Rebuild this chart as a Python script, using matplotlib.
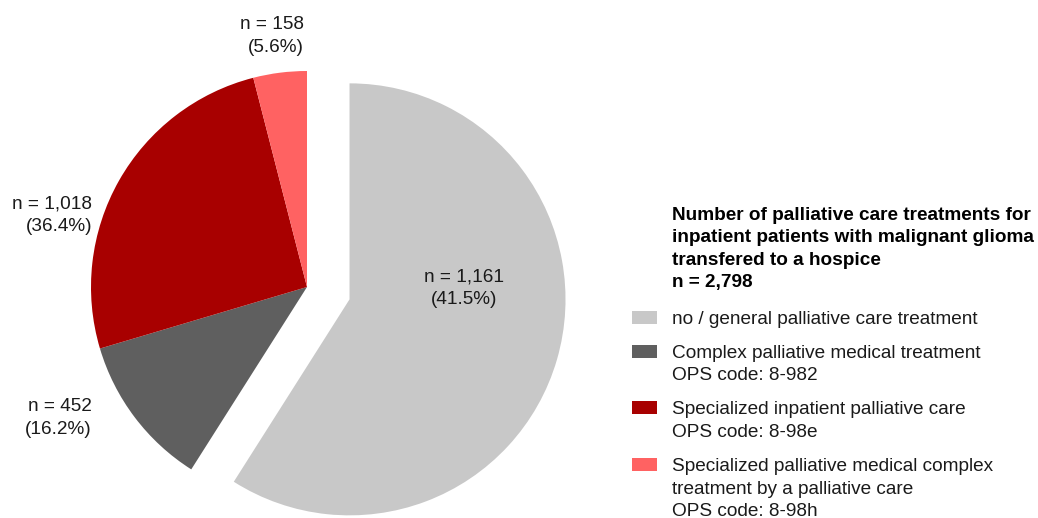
import matplotlib
matplotlib.use("Agg")
import matplotlib.pyplot as plt
from matplotlib.patches import Rectangle

plt.rcParams['font.family'] = ['Liberation Sans', 'DejaVu Sans']

# categories, in drawing order (clockwise from 12 o'clock)
categories = ['no / general palliative care treatment',
              'Complex palliative medical treatment\nOPS code: 8-982',
              'Specialized inpatient palliative care\nOPS code: 8-98e',
              'Specialized palliative medical complex\ntreatment by a palliative care\nOPS code: 8-98h']
counts = [1161, 452, 1018, 158]
percents = [41.5, 16.2, 36.4, 5.6]
# wedge sizes as drawn in the figure (they do not follow the printed percents)
drawn_share = [59.0, 11.4, 25.6, 4.0]
colors = ['#c8c8c8', '#5f5f5f', '#a80000', '#ff6262']
title_lines = ['Number of palliative care treatments for',
               'inpatient patients with malignant glioma',
               'transfered to a hospice',
               'n = 2,798']

W, H = 1038, 518
fig = plt.figure(figsize=(W / 100, H / 100), dpi=100)
ax = fig.add_axes([0, 0, 1, 1])

fs = 13.7
txt_col = '#1a1a1a'

cx, cy, r = 307, H - 287, 216
# explode is in data units here, so scale by the radius
wedges, _ = ax.pie(drawn_share, colors=colors, startangle=90, counterclock=False,
                   explode=[0.205 * r, 0, 0, 0], center=(cx, cy), radius=r,
                   wedgeprops=dict(linewidth=0))
ax.set_xlim(0, W)
ax.set_ylim(0, H)
ax.set_aspect('equal')
ax.axis('off')

labels = ['n = {:,}\n({}%)'.format(c, p) for c, p in zip(counts, percents)]
# label anchor (x, y from top) and alignment
spots = [(464, 288, 'center'), (92, 418, 'right'), (92, 215, 'right'), (304, 36, 'right')]
for lab, (x, y, ha) in zip(labels, spots):
    ax.text(x, H - y, lab, ha=ha, va='center', multialignment=ha,
            fontsize=fs, color=txt_col, linespacing=1.42)

# legend drawn by hand so the swatch sits on the first line of each entry
line_h = 22.5
lx, sx = 672, 632
y = 213
for t in title_lines:
    ax.text(lx, H - y - 7, t, ha='left', va='baseline', fontsize=fs,
            fontweight='bold', color='black')
    y += line_h
y = 317
for cat, col in zip(categories, colors):
    ax.add_patch(Rectangle((sx, H - y - 6.5), 25, 13, facecolor=col, edgecolor='none'))
    for ln in cat.split('\n'):
        ax.text(lx, H - y - 7, ln, ha='left', va='baseline', fontsize=fs, color=txt_col)
        y += line_h
    y += 11.5

fig.savefig('out.png', dpi=100)
